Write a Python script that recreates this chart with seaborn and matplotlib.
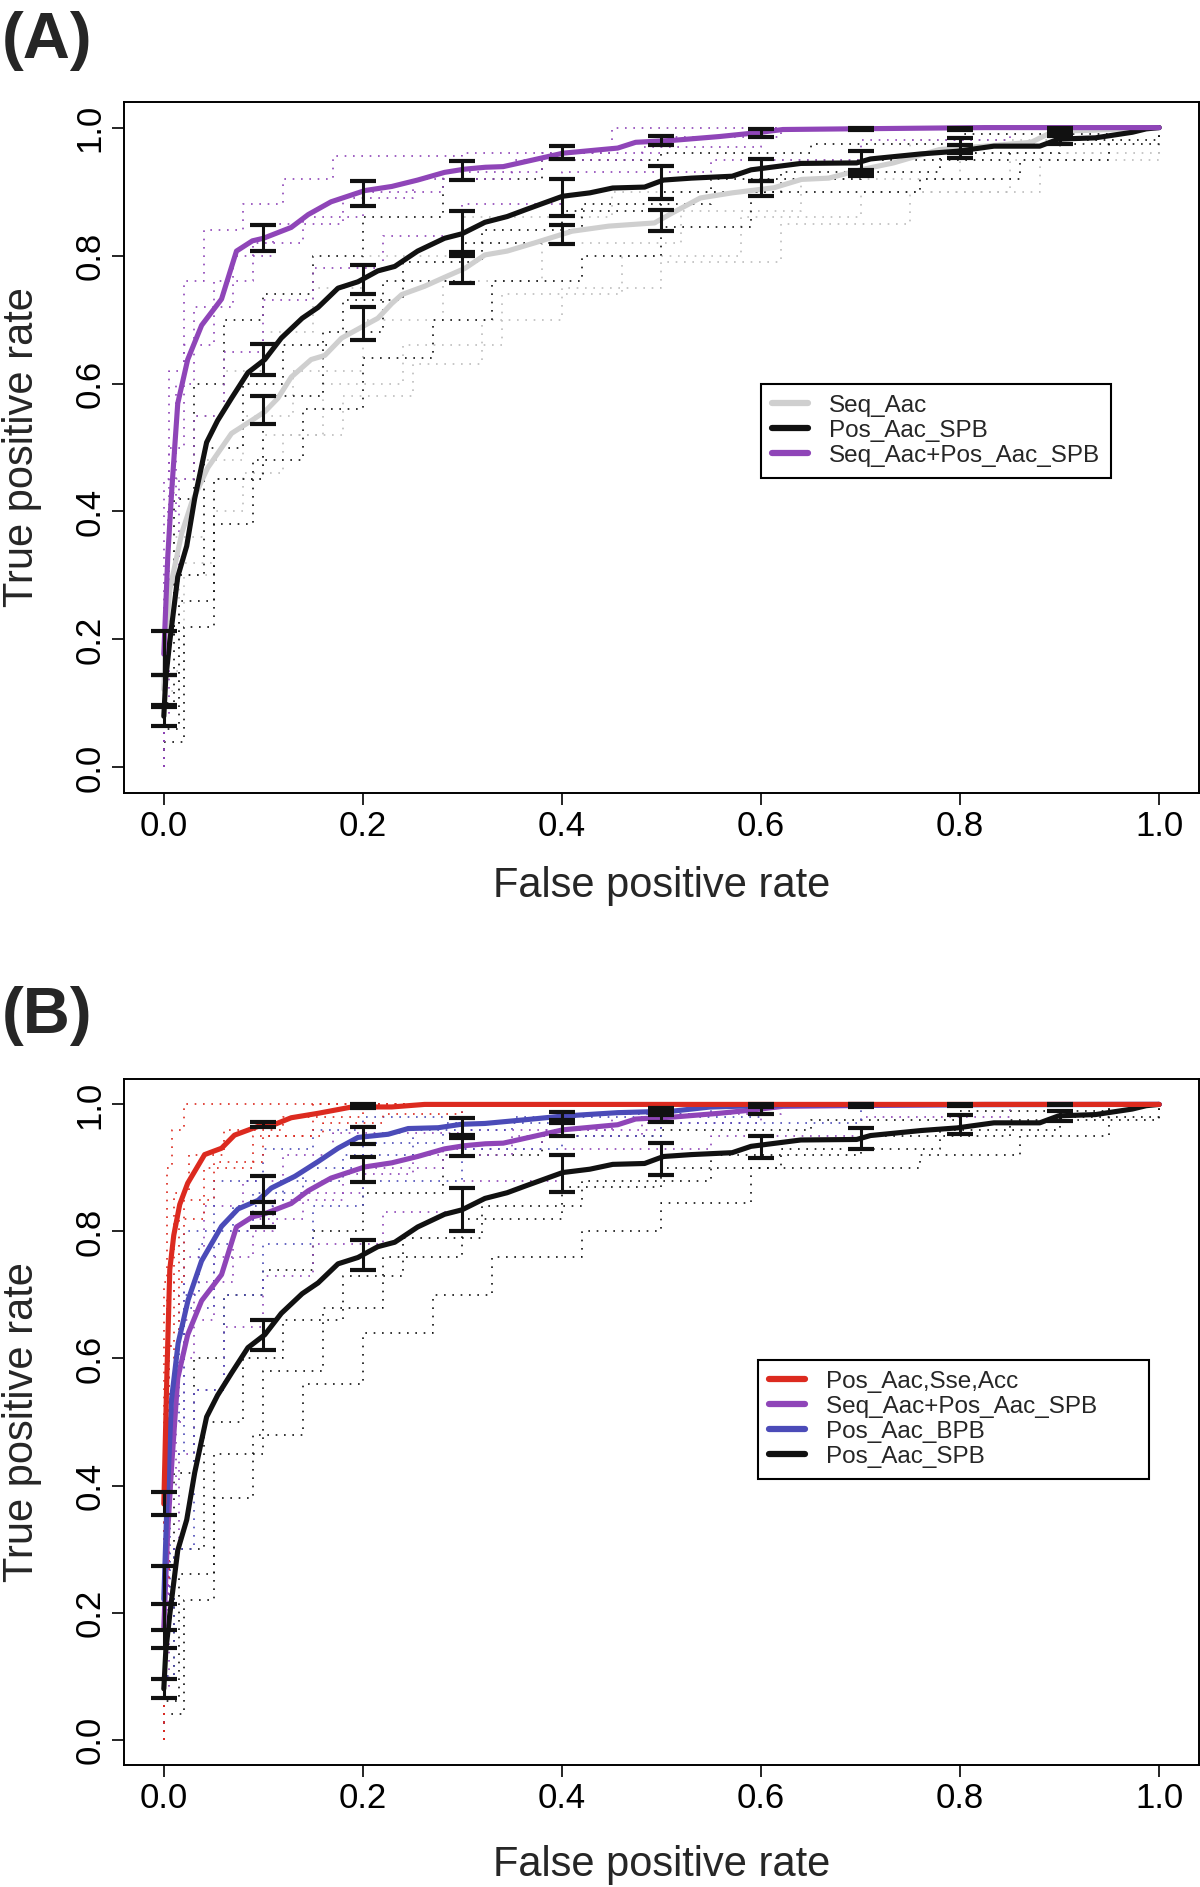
import matplotlib
matplotlib.use("Agg")
import matplotlib.pyplot as plt
import seaborn as sns
from matplotlib.lines import Line2D

# ---- mean ROC curves (vertical average over folds) ----
seq_x = [0, 0.002, 0.006, 0.018, 0.028, 0.044, 0.068, 0.088, 0.1015, 0.1146, 0.128, 0.148, 0.1618, 0.1786,
         0.202, 0.215, 0.229, 0.239, 0.262, 0.282, 0.3025, 0.3226, 0.345, 0.373, 0.410, 0.447, 0.493, 0.511,
         0.539, 0.571, 0.613, 0.6406, 0.668, 0.700, 0.733, 0.779, 0.825, 0.8714, 0.894, 0.931, 1.0]
seq_y = [0.122, 0.2, 0.278, 0.366, 0.414, 0.468, 0.522, 0.542, 0.556, 0.577, 0.610, 0.6375, 0.6439, 0.671,
         0.691, 0.702, 0.725, 0.739, 0.752, 0.766, 0.780, 0.801, 0.807, 0.820, 0.838, 0.846, 0.851, 0.8667,
         0.890, 0.898, 0.906, 0.919, 0.921, 0.934, 0.9448, 0.9656, 0.971, 0.977, 0.9942, 0.9958, 1.0]

spb_x = [0, 0.002, 0.006, 0.014, 0.023, 0.031, 0.043, 0.054, 0.068, 0.0845, 0.1015, 0.118, 0.139, 0.155,
         0.175, 0.195, 0.215, 0.232, 0.255, 0.282, 0.2995, 0.3226, 0.345, 0.364, 0.4006, 0.428, 0.451, 0.483,
         0.502, 0.530, 0.571, 0.590, 0.640, 0.696, 0.710, 0.761, 0.797, 0.834, 0.880, 0.899, 0.936, 0.973,
         0.987, 1.0]
spb_y = [0.08, 0.14, 0.197, 0.298, 0.346, 0.420, 0.508, 0.542, 0.577, 0.617, 0.6375, 0.671, 0.702, 0.719,
         0.749, 0.759, 0.776, 0.783, 0.807, 0.827, 0.834, 0.852, 0.861, 0.872, 0.8927, 0.898, 0.9056, 0.907,
         0.918, 0.921, 0.924, 0.934, 0.944, 0.9448, 0.951, 0.9589, 0.963, 0.971, 0.971, 0.982, 0.984, 0.9927,
         0.998, 1.0]

comb_x = [0, 0.004, 0.008, 0.014, 0.024, 0.038, 0.058, 0.073, 0.089, 0.10, 0.128, 0.145, 0.168, 0.202,
          0.229, 0.255, 0.282, 0.302, 0.323, 0.341, 0.364, 0.401, 0.456, 0.474, 0.511, 0.558, 0.594, 0.622,
          0.686, 0.825, 1.0]
comb_y = [0.177, 0.33, 0.434, 0.569, 0.6375, 0.691, 0.732, 0.807, 0.823, 0.827, 0.844, 0.864, 0.884, 0.9016,
          0.908, 0.918, 0.930, 0.935, 0.938, 0.939, 0.947, 0.960, 0.968, 0.977, 0.980, 0.986, 0.9917, 0.997,
          0.998, 1.0, 1.0]

bpb_x = [0, 0.003, 0.0077, 0.0144, 0.0244, 0.0379, 0.058, 0.0747, 0.0948, 0.108, 0.1317, 0.155, 0.175,
         0.195, 0.2254, 0.2455, 0.2757, 0.299, 0.3226, 0.364, 0.4006, 0.456, 0.5116, 0.5484, 0.6175, 1.0]
bpb_y = [0.221, 0.364, 0.535, 0.624, 0.692, 0.7535, 0.808, 0.8356, 0.849, 0.8683, 0.8868, 0.910, 0.931,
         0.948, 0.953, 0.962, 0.9633, 0.9687, 0.970, 0.976, 0.9816, 0.987, 0.9895, 0.9958, 0.999, 1.0]

sse_x = [0, 0.003, 0.006, 0.010, 0.016, 0.024, 0.041, 0.058, 0.071, 0.0945, 0.1116, 0.128, 0.155, 0.189,
         0.229, 0.262, 1.0]
sse_y = [0.371, 0.569, 0.740, 0.794, 0.8425, 0.876, 0.921, 0.931, 0.9516, 0.9653, 0.9687, 0.979, 0.986,
         0.996, 0.996, 1.0, 1.0]

# ---- error bars (standard error) ----
eb_x = [0, 0.1, 0.2, 0.3, 0.4, 0.5, 0.6, 0.7, 0.8, 0.9]
seq_lo = [0.097, 0.537, 0.668, 0.757, 0.818, 0.839, 0.893, 0.924, 0.960, 0.987]
seq_hi = [0.1445, 0.581, 0.720, 0.805, 0.848, 0.871, 0.917, 0.934, 0.9735, 0.993]
spb_lo = [0.065, 0.613, 0.740, 0.800, 0.8625, 0.8886, 0.916, 0.930, 0.953, 0.974]
spb_hi = [0.095, 0.661, 0.786, 0.869, 0.920, 0.9396, 0.951, 0.963, 0.984, 0.989]
comb_lo = [0.1445, 0.807, 0.878, 0.918, 0.951, 0.973, 0.985, 0.996, 0.997, 0.999]
comb_hi = [0.2137, 0.847, 0.917, 0.9475, 0.971, 0.9875, 0.998, 1.0, 1.0, 1.0]
bpb_lo = [0.173, 0.829, 0.938, 0.952, 0.975, 0.984, 0.996, 0.999, 1.0, 1.0]
bpb_hi = [0.2735, 0.887, 0.964, 0.979, 0.988, 0.995, 1.0, 1.0, 1.0, 1.0]
sse_lo = [0.354, 0.965, 0.995, 1.0, 1.0, 1.0, 1.0, 1.0, 1.0, 1.0]
sse_hi = [0.390, 0.972, 1.0, 1.0, 1.0, 1.0, 1.0, 1.0, 1.0, 1.0]

# ---- individual fold curves (step ROC) ----
seq_folds = [
    ([0, 0, 0.01, 0.03, 0.06, 0.1, 0.15, 0.2, 0.3, 0.45, 0.6, 0.75, 0.9, 1.0],
     [0, 0.3, 0.45, 0.55, 0.62, 0.68, 0.75, 0.8, 0.86, 0.9, 0.95, 0.98, 1.0, 1.0]),
    ([0, 0, 0.02, 0.05, 0.08, 0.12, 0.18, 0.25, 0.32, 0.4, 0.5, 0.62, 0.75, 0.88, 1.0],
     [0, 0.15, 0.3, 0.4, 0.46, 0.52, 0.58, 0.63, 0.7, 0.75, 0.79, 0.85, 0.9, 0.96, 1.0]),
    ([0, 0, 0.01, 0.04, 0.08, 0.13, 0.2, 0.28, 0.38, 0.52, 0.64, 0.8, 0.95, 1.0],
     [0, 0.2, 0.36, 0.48, 0.55, 0.62, 0.7, 0.76, 0.82, 0.87, 0.92, 0.96, 1.0, 1.0]),
    ([0, 0, 0.015, 0.05, 0.1, 0.16, 0.24, 0.34, 0.46, 0.58, 0.7, 0.85, 1.0],
     [0, 0.12, 0.32, 0.45, 0.52, 0.6, 0.66, 0.74, 0.8, 0.86, 0.9, 0.95, 1.0]),
]
spb_folds = [
    ([0, 0, 0.01, 0.03, 0.06, 0.1, 0.15, 0.2, 0.28, 0.38, 0.5, 0.65, 0.8, 0.95, 1.0],
     [0, 0.2, 0.42, 0.6, 0.7, 0.74, 0.8, 0.86, 0.92, 0.95, 0.96, 0.975, 0.99, 1.0, 1.0]),
    ([0, 0, 0.02, 0.05, 0.09, 0.14, 0.2, 0.27, 0.33, 0.42, 0.5, 0.59, 0.76, 0.86, 0.95, 1.0],
     [0, 0.04, 0.22, 0.38, 0.48, 0.56, 0.64, 0.7, 0.76, 0.8, 0.844, 0.9, 0.92, 0.95, 1.0, 1.0]),
    ([0, 0, 0.01, 0.04, 0.08, 0.12, 0.18, 0.24, 0.32, 0.42, 0.55, 0.7, 0.85, 1.0],
     [0, 0.1, 0.3, 0.5, 0.6, 0.66, 0.73, 0.79, 0.84, 0.88, 0.92, 0.95, 0.975, 1.0]),
    ([0, 0, 0.015, 0.05, 0.1, 0.16, 0.22, 0.3, 0.4, 0.5, 0.62, 0.78, 0.9, 1.0],
     [0, 0.06, 0.26, 0.45, 0.58, 0.68, 0.76, 0.82, 0.87, 0.9, 0.93, 0.96, 0.98, 1.0]),
]
comb_folds = [
    ([0, 0, 0.005, 0.02, 0.04, 0.08, 0.12, 0.17, 0.3, 0.45, 1.0],
     [0, 0.45, 0.62, 0.76, 0.84, 0.88, 0.92, 0.955, 0.96, 1.0, 1.0]),
    ([0, 0, 0.005, 0.015, 0.03, 0.06, 0.1, 0.15, 0.22, 0.3, 0.4, 0.55, 0.7, 0.85, 1.0],
     [0, 0.08, 0.3, 0.45, 0.55, 0.65, 0.73, 0.78, 0.83, 0.88, 0.93, 0.95, 0.98, 1.0, 1.0]),
    ([0, 0, 0.005, 0.02, 0.05, 0.09, 0.14, 0.2, 0.28, 0.38, 0.5, 0.62, 1.0],
     [0, 0.2, 0.5, 0.66, 0.76, 0.82, 0.86, 0.9, 0.93, 0.96, 0.985, 1.0, 1.0]),
    ([0, 0, 0.004, 0.012, 0.03, 0.07, 0.11, 0.18, 0.25, 0.35, 0.48, 0.6, 1.0],
     [0, 0.15, 0.4, 0.6, 0.72, 0.8, 0.85, 0.89, 0.92, 0.95, 0.97, 1.0, 1.0]),
]
bpb_folds = [
    ([0, 0, 0.005, 0.02, 0.05, 0.1, 0.15, 0.2, 0.3, 1.0],
     [0, 0.35, 0.6, 0.8, 0.88, 0.93, 0.96, 0.98, 1.0, 1.0]),
    ([0, 0, 0.01, 0.03, 0.06, 0.1, 0.15, 0.2, 0.3, 0.4, 0.5, 0.7, 1.0],
     [0, 0.1, 0.3, 0.55, 0.7, 0.78, 0.84, 0.88, 0.93, 0.95, 0.97, 1.0, 1.0]),
    ([0, 0, 0.006, 0.02, 0.05, 0.09, 0.14, 0.2, 0.28, 0.4, 0.55, 1.0],
     [0, 0.2, 0.45, 0.68, 0.8, 0.86, 0.9, 0.94, 0.97, 0.985, 1.0, 1.0]),
    ([0, 0, 0.004, 0.015, 0.035, 0.07, 0.12, 0.18, 0.25, 0.35, 0.6, 1.0],
     [0, 0.25, 0.5, 0.7, 0.78, 0.84, 0.88, 0.92, 0.96, 0.98, 1.0, 1.0]),
]
sse_folds = [
    ([0, 0, 0.003, 0.008, 0.02, 1.0], [0, 0.72, 0.9, 0.96, 1.0, 1.0]),
    ([0, 0, 0.004, 0.01, 0.02, 0.05, 0.1, 0.16, 0.22, 0.3, 1.0],
     [0, 0.3, 0.55, 0.72, 0.85, 0.91, 0.95, 0.97, 0.985, 1.0, 1.0]),
    ([0, 0, 0.003, 0.01, 0.025, 0.06, 0.12, 0.2, 1.0], [0, 0.4, 0.7, 0.86, 0.92, 0.96, 0.98, 1.0, 1.0]),
    ([0, 0, 0.005, 0.015, 0.04, 0.09, 0.15, 1.0], [0, 0.25, 0.62, 0.82, 0.9, 0.95, 1.0, 1.0]),
]

labels_a = ["Seq_Aac", "Pos_Aac_SPB", "Seq_Aac+Pos_Aac_SPB"]
labels_b = ["Pos_Aac,Sse,Acc", "Seq_Aac+Pos_Aac_SPB", "Pos_Aac_BPB", "Pos_Aac_SPB"]

C_GRAY, C_BLACK, C_PURPLE, C_BLUE, C_RED = "#cfcfcf", "#111111", "#8f45b8", "#4b4bb8", "#dc2a1f"

models = {
    "Seq_Aac": (seq_x, seq_y, seq_lo, seq_hi, seq_folds, C_GRAY, "#bdbdbd"),
    "Pos_Aac_SPB": (spb_x, spb_y, spb_lo, spb_hi, spb_folds, C_BLACK, "#111111"),
    "Seq_Aac+Pos_Aac_SPB": (comb_x, comb_y, comb_lo, comb_hi, comb_folds, C_PURPLE, C_PURPLE),
    "Pos_Aac_BPB": (bpb_x, bpb_y, bpb_lo, bpb_hi, bpb_folds, C_BLUE, C_BLUE),
    "Pos_Aac,Sse,Acc": (sse_x, sse_y, sse_lo, sse_hi, sse_folds, C_RED, C_RED),
}

sns.set_style("ticks")
plt.rcParams['font.family'] = ['Liberation Sans', 'DejaVu Sans']

fig = plt.figure(figsize=(12, 18.87), dpi=100)
axA = fig.add_axes([124 / 1200, 1 - 793 / 1887, 1075 / 1200, 691 / 1887])
axB = fig.add_axes([124 / 1200, 1 - 1765 / 1887, 1075 / 1200, 686 / 1887])


def draw_panel(ax, draw_order, legend_order, legend_top, xlabel_y, spacing, right_pad):
    for name in draw_order:
        for xs, ys in models[name][4]:
            ax.plot(xs, ys, drawstyle="steps-post", color=models[name][6], lw=1.2,
                    ls=(0, (1, 4)), zorder=1)
    for name in draw_order:
        mx, my, lo, hi, folds, col, fcol = models[name]
        sns.lineplot(x=mx, y=my, ax=ax, color=col, lw=3.7, sort=False, estimator=None,
                     zorder=3, solid_capstyle="round")
    for name in draw_order:
        mx, my, lo, hi, folds, col, fcol = models[name]
        keep = [i for i in range(len(eb_x)) if hi[i] - lo[i] > 0.001]
        bx = [eb_x[i] for i in keep]
        mid = [(lo[i] + hi[i]) / 2 for i in keep]
        err = [[mid[k] - lo[i] for k, i in enumerate(keep)], [hi[i] - mid[k] for k, i in enumerate(keep)]]
        ax.errorbar(bx, mid, yerr=err, fmt="none", ecolor="#111111", elinewidth=2.2,
                    capsize=9.5, capthick=3.0, zorder=4)

    ax.set_xlim(-0.04, 1.04)
    ax.set_ylim(-0.04, 1.04)
    ticks = [0, 0.2, 0.4, 0.6, 0.8, 1.0]
    ax.set_xticks(ticks)
    ax.set_yticks(ticks)
    ax.set_xticklabels([f"{t:.1f}" for t in ticks])
    ax.set_yticklabels([f"{t:.1f}" for t in ticks], rotation=90, va="center")
    ax.tick_params(direction="out", length=8.6, width=1.2, labelsize=25, pad=4, colors="black")
    for sp in ax.spines.values():
        sp.set_visible(True)
        sp.set_linewidth(1.4)
        sp.set_color("black")
    ax.set_xlabel("False positive rate", fontsize=30, va="center")
    ax.set_ylabel("True positive rate", fontsize=30, va="center")
    ax.xaxis.set_label_coords(0.5, xlabel_y)
    ax.yaxis.set_label_coords((22 - 124) / 1075, 0.5)

    handles = [Line2D([], [], color=models[n][5], lw=4.5) for n in legend_order]
    texts = [n + right_pad if len(n) == max(len(m) for m in legend_order) else n for n in legend_order]
    leg = ax.legend(handles, texts, loc="upper left", bbox_to_anchor=legend_top,
                    bbox_transform=fig.transFigure, fontsize=17.5, frameon=True, fancybox=False,
                    edgecolor="black", framealpha=1, handlelength=1.5, handletextpad=0.85,
                    borderpad=0.45, labelspacing=spacing, borderaxespad=0)
    leg.get_frame().set_linewidth(1.5)


draw_panel(axA, ["Seq_Aac", "Pos_Aac_SPB", "Seq_Aac+Pos_Aac_SPB"], labels_a,
           (761 / 1200, 1 - 384 / 1887), -(886 - 793) / 691, 0.12, "")
draw_panel(axB, ["Pos_Aac_SPB", "Seq_Aac+Pos_Aac_SPB", "Pos_Aac_BPB", "Pos_Aac,Sse,Acc"], labels_b,
           (758 / 1200, 1 - 1360 / 1887), -(1865 - 1765) / 686, 0.12, "      ")

fig.text(2 / 1200, 1 - 58 / 1887, "(A)", fontsize=47, fontweight="bold", va="baseline", ha="left")
fig.text(2 / 1200, 1 - 1033 / 1887, "(B)", fontsize=47, fontweight="bold", va="baseline", ha="left")

fig.savefig("out.png", dpi=100)
